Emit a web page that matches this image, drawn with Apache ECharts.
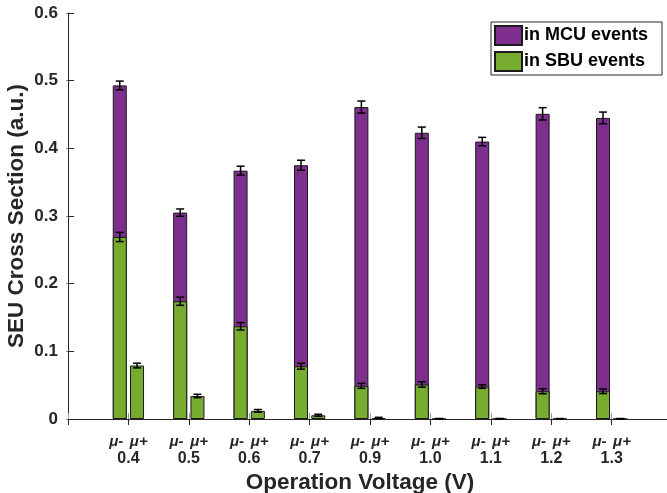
<!DOCTYPE html>
<html>
<head>
<meta charset="utf-8">
<script src="https://cdn.jsdelivr.net/npm/echarts@6/dist/echarts.min.js"></script>
<style>
  html, body { margin: 0; padding: 0; background: #fff; }
  #chart { width: 667px; height: 493px; }
</style>
</head>
<body>
<div id="chart"></div>
<script>
// voltages (one group each, mu- and mu+ bar)
const voltages = ['0.4', '0.5', '0.6', '0.7', '0.9', '1.0', '1.1', '1.2', '1.3']
// mu- : total cross section (MCU + SBU) and the SBU part of it
const minusTotal = [0.493, 0.305, 0.367, 0.375, 0.461, 0.423, 0.410, 0.451, 0.445]
const minusSbu = [0.269, 0.174, 0.137, 0.078, 0.049, 0.051, 0.048, 0.041, 0.041]
const minusTotalErr = [0.0064, 0.0054, 0.0066, 0.0074, 0.0089, 0.0084, 0.0062, 0.0091, 0.0086]
const minusSbuErr = [0.0068, 0.0060, 0.0054, 0.0044, 0.0037, 0.0040, 0.0027, 0.0037, 0.0034]
// mu+ : practically SBU only
const plusSbu = [0.079, 0.034, 0.012, 0.0055, 0.0015, 0.0003, 0.0003, 0.0002, 0.0002]
const plusSbuErr = [0.0035, 0.0025, 0.0020, 0.0015, 0.0010, 0.0005, 0.0005, 0.0005, 0.0005]

const purple = '#7E2F8E'
const green = '#77AC30'
const edge = '#1a1a1a'
const axisColor = '#262626'
const shift = 0.143 // half distance between mu- and mu+ bars, in axis units
const xMax = 9.916  // axis runs 0..10 but the figure cuts it at the right edge

const xm = voltages.map((v, i) => i + 1 - shift)
const xp = voltages.map((v, i) => i + 1 + shift)

const errData = []
voltages.forEach((v, i) => {
  errData.push([xm[i], minusTotal[i], minusTotalErr[i]])
  errData.push([xm[i], minusSbu[i], minusSbuErr[i]])
  errData.push([xp[i], plusSbu[i], plusSbuErr[i]])
})

const font = 'Liberation Sans, Arial, Helvetica, sans-serif'
const barStyle = color => ({ color: color, borderColor: edge, borderWidth: 1 })

const chart = echarts.init(document.getElementById('chart'), null, { renderer: 'canvas' })
chart.setOption({
  animation: false,
  backgroundColor: '#fff',
  grid: { left: 68, top: 13, right: 0, bottom: 74, containLabel: false, outerBoundsMode: 'none' },
  legend: {
    data: ['in MCU events', 'in SBU events'],
    orient: 'vertical',
    left: 491,
    top: 22,
    padding: [3, 14, 3, 3],
    itemGap: 5,
    itemWidth: 27,
    itemHeight: 19,
    borderColor: axisColor,
    borderWidth: 1,
    backgroundColor: '#fff',
    icon: 'rect',
    selectedMode: false,
    textStyle: { fontFamily: font, fontWeight: 'bold', fontSize: 18, color: '#000', padding: [0, 0, 0, -3] }
  },
  xAxis: [{
    type: 'value',
    min: 0,
    max: xMax,
    interval: 1,
    position: 'bottom',
    splitLine: { show: false },
    axisLine: { lineStyle: { color: axisColor, width: 1 } },
    axisTick: { inside: true, length: 6, lineStyle: { color: '#999' } },
    axisLabel: {
      margin: 14,
      showMaxLabel: false,
      formatter: val => {
        const i = Math.round(val) - 1
        if (i < 0 || i >= voltages.length) return ''
        return '{mu|\u03bc-}  {mu|\u03bc+}\n{num|' + voltages[i] + '}'
      },
      rich: {
        mu: { fontFamily: font, fontStyle: 'italic', fontWeight: 'bold', fontSize: 15, color: axisColor, lineHeight: 17 },
        num: { fontFamily: font, fontWeight: 'bold', fontSize: 16, color: axisColor, lineHeight: 17 }
      }
    },
    name: 'Operation Voltage (V)',
    nameLocation: 'middle',
    nameGap: 50,
    nameTextStyle: { fontFamily: font, fontWeight: 'bold', fontSize: 22.5, color: axisColor, padding: [0, 0, 0, -15] }
  }, {
    type: 'value',
    min: 0,
    max: xMax,
    interval: 1,
    position: 'top',
    splitLine: { show: false },
    axisLine: { lineStyle: { color: axisColor, width: 1 } },
    axisTick: { inside: true, length: 6, lineStyle: { color: axisColor } },
    axisLabel: { show: false }
  }],
  yAxis: [{
    type: 'value',
    min: 0,
    max: 0.6,
    interval: 0.1,
    splitLine: { show: false },
    axisLine: { show: true, lineStyle: { color: axisColor, width: 1 } },
    axisTick: { show: true, inside: true, length: 6, lineStyle: { color: axisColor } },
    axisLabel: {
      margin: 10,
      fontFamily: font,
      fontWeight: 'bold',
      fontSize: 17,
      color: axisColor,
      formatter: v => (v === 0 ? '0' : v.toFixed(1))
    },
    name: 'SEU Cross Section (a.u.)',
    nameLocation: 'middle',
    nameGap: 40,
    nameMoveOverlap: false,
    nameTextStyle: { fontFamily: font, fontWeight: 'bold', fontSize: 22.5, color: axisColor }
  }, {
    type: 'value',
    min: 0,
    max: 0.6,
    interval: 0.1,
    position: 'right',
    splitLine: { show: false },
    axisLine: { show: false },
    axisTick: { show: true, inside: true, length: 2, lineStyle: { color: '#888' } },
    axisLabel: { show: false }
  }],
  series: [
    {
      name: 'in MCU events',
      type: 'bar',
      barWidth: 14,
      itemStyle: barStyle(purple),
      data: xm.map((x, i) => [x, minusTotal[i]])
    },
    {
      name: 'in SBU events',
      type: 'bar',
      barWidth: 14,
      barGap: '-100%',
      z: 3,
      itemStyle: barStyle(green),
      data: xm.map((x, i) => [x, minusSbu[i]])
    },
    {
      name: 'in SBU events',
      type: 'bar',
      barWidth: 14,
      barGap: '-100%',
      itemStyle: barStyle(green),
      data: xp.map((x, i) => [x, plusSbu[i]])
    },
    {
      name: 'errors',
      type: 'custom',
      z: 5,
      silent: true,
      data: errData,
      renderItem: (params, api) => {
        const x = api.value(0)
        const y = api.value(1)
        const e = api.value(2)
        const top = api.coord([x, y + e])
        const bot = api.coord([x, y - e])
        const hw = 4
        const style = { stroke: '#000', lineWidth: 1.5 }
        return {
          type: 'group',
          children: [
            { type: 'line', shape: { x1: top[0], y1: top[1], x2: bot[0], y2: bot[1] }, style: style },
            { type: 'line', shape: { x1: top[0] - hw, y1: top[1], x2: top[0] + hw, y2: top[1] }, style: style },
            { type: 'line', shape: { x1: bot[0] - hw, y1: bot[1], x2: bot[0] + hw, y2: bot[1] }, style: style }
          ]
        }
      }
    }
  ]
})
</script>
</body>
</html>
